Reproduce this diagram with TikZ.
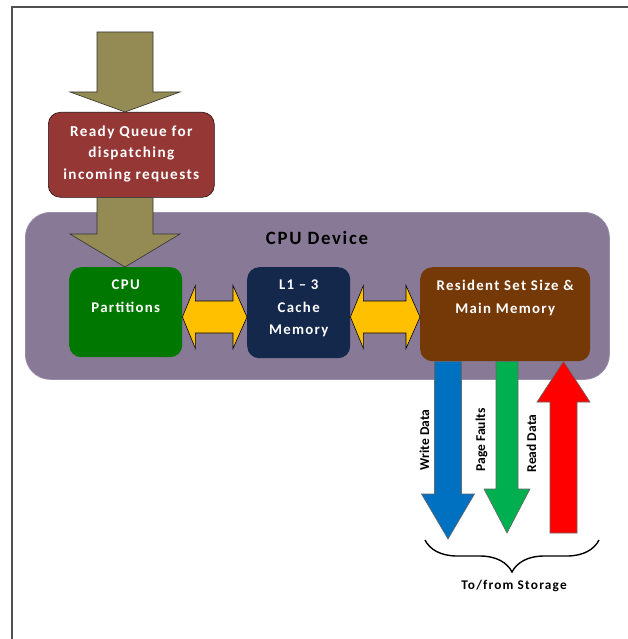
\documentclass[tikz,border=0pt]{standalone}
\usepackage{fontspec}
\setmainfont{Carlito}[LetterSpace=9]
\newfontfamily\labelfont{Carlito}
\usetikzlibrary{calc,decorations.pathreplacing}

\definecolor{framecol}{HTML}{505050}
\definecolor{olivecol}{HTML}{948A54}
\definecolor{queuecol}{HTML}{953735}
\definecolor{devcol}{HTML}{887A97}
\definecolor{cpucol}{HTML}{007800}
\definecolor{cachecol}{HTML}{14284B}
\definecolor{memcol}{HTML}{753807}
\definecolor{linkcol}{HTML}{FFC000}
\definecolor{writecol}{HTML}{0070C0}
\definecolor{faultcol}{HTML}{00B050}
\definecolor{readcol}{HTML}{FF0000}

% vertical block arrow: style, tail centre, head-base centre, tip, shaft half-width, head half-width
\newcommand{\varrow}[6]{%
  \draw[#1] ($(#2)+(-#5,0)$) -- ($(#3)+(-#5,0)$) -- ($(#3)+(-#6,0)$) -- (#4)
    -- ($(#3)+(#6,0)$) -- ($(#3)+(#5,0)$) -- ($(#2)+(#5,0)$) -- cycle;}
% horizontal two-headed block arrow between a left tip and a right tip
\newcommand{\dblarrow}[3]{%
  \draw[#3] (#1) -- ($(#1)+(13,-31.5)$) -- ($(#1)+(13,-16)$) -- ($(#2)+(-14,-16)$)
    -- ($(#2)+(-14,-31.5)$) -- (#2) -- ($(#2)+(-14,31.5)$) -- ($(#2)+(-14,16)$)
    -- ($(#1)+(13,16)$) -- ($(#1)+(13,31.5)$) -- cycle;}

\tikzset{
  box/.style={rounded corners=12pt, inner sep=0pt, anchor=north west},
  boxtext/.style={text=white, align=center, inner sep=0pt, anchor=north,
    font=\fontsize{14.8}{22.5}\selectfont\bfseries},
  olivearrow/.style={fill=olivecol, draw=black!80, line width=0.6pt},
  linkarrow/.style={fill=linkcol, draw=black, line width=0.6pt},
  iodata/.style={draw=black!60, line width=0.6pt},
  sidelabel/.style={rotate=90, anchor=base, inner sep=0pt,
    font=\labelfont\fontsize{13.5}{15}\selectfont\bfseries},
}

\begin{document}
\begin{tikzpicture}[x=1pt,y=-1pt]
\useasboundingbox (0,0) rectangle (628,639);

% page frame
\draw[framecol, line width=2pt] (11.5,639) -- (11.5,7.5) -- (628,7.5);

% incoming requests into the ready queue
\node[box, fill=queuecol, draw=black!75!queuecol, line width=0.6pt,
  minimum width=166, minimum height=85] (rq) at (48,112) {};
\node[text=white, align=center, inner sep=0pt,
  font=\fontsize{15.2}{21.5}\selectfont\bfseries] (rqtext) at ([yshift=1pt]rq.center)
  {Ready Queue for\\dispatching\\incoming requests};
\coordinate (q1tail) at (125,32);
\coordinate (q1base) at (125,92);
\coordinate (q1tip) at (125,0 |- rq.north);
\varrow{olivearrow}{q1tail}{q1base}{q1tip}{28}{55}

% CPU device enclosure
\node[box, rounded corners=25pt, fill=devcol, draw=devcol!85!white, line width=0.8pt,
  minimum width=584, minimum height=167] (dev) at (25,212) {};
\node[inner sep=0pt, font=\fontsize{18.8}{21}\selectfont\bfseries] (devtitle)
  at (317,238) {CPU Device};

\node[box, fill=cpucol, minimum width=113, minimum height=90] (cpu) at (69,267) {};
\node[boxtext] (cputext) at ([yshift=-13pt]cpu.north) {CPU\\Partitions};
\node[box, fill=cachecol, minimum width=103, minimum height=91] (l1) at (247,267) {};
\node[boxtext] (l1text) at ([yshift=-13pt]l1.north) {L1 – 3\\Cache\\Memory};
\node[box, fill=memcol, minimum width=170, minimum height=94] (rsm) at (420,267) {};
\node[boxtext] (rsmtext) at ([yshift=-13pt]rsm.north) {Resident Set Size \&\\Main Memory};

% queue feeding the CPU partitions
\coordinate (q2tail) at (125,0 |- rq.south);
\coordinate (q2base) at (125,234);
\coordinate (q2tip) at (125,0 |- cpu.north);
\varrow{olivearrow}{q2tail}{q2base}{q2tip}{28}{55}

% links between CPU, cache and memory
\coordinate (ymid) at (0,317);
\coordinate (lnk1a) at (cpu.east |- ymid);
\coordinate (lnk1b) at (l1.west |- ymid);
\coordinate (lnk2a) at (l1.east |- ymid);
\coordinate (lnk2b) at (rsm.west |- ymid);
\dblarrow{lnk1a}{lnk1b}{linkarrow}
\dblarrow{lnk2a}{lnk2b}{linkarrow}

% traffic between main memory and storage
\coordinate (wtail) at (448,0 |- rsm.south);
\coordinate (wbase) at (448,494);
\coordinate (wtip) at (448,539);
\varrow{iodata, fill=writecol}{wtail}{wbase}{wtip}{13.5}{26.5}
\coordinate (ftail) at (507,0 |- rsm.south);
\coordinate (fbase) at (507,489);
\coordinate (ftip) at (507,533);
\varrow{iodata, fill=faultcol}{ftail}{fbase}{ftip}{11}{23}
\coordinate (rtail) at (563.5,533);
\coordinate (rbase) at (563.5,402);
\coordinate (rtip) at (563.5,0 |- rsm.south);
\varrow{iodata, fill=readcol}{rtail}{rbase}{rtip}{13.5}{26.5}

\node[sidelabel] (wlabel) at (429,440) {Write Data};
\node[sidelabel] (flabel) at (485,440) {Page Faults};
\node[sidelabel] (rlabel) at (536,443.5) {Read Data};

% storage brace
\coordinate (brl) at (425,540);
\coordinate (brr) at (599,540);
\draw[line width=1.4pt, decorate, decoration={brace, amplitude=32pt, mirror}]
  (brl) -- (brr);
\node[inner sep=0pt, font=\fontsize{13.3}{15}\selectfont\bfseries] (storage)
  at (514,586) {To/from Storage};
\end{tikzpicture}
\end{document}
